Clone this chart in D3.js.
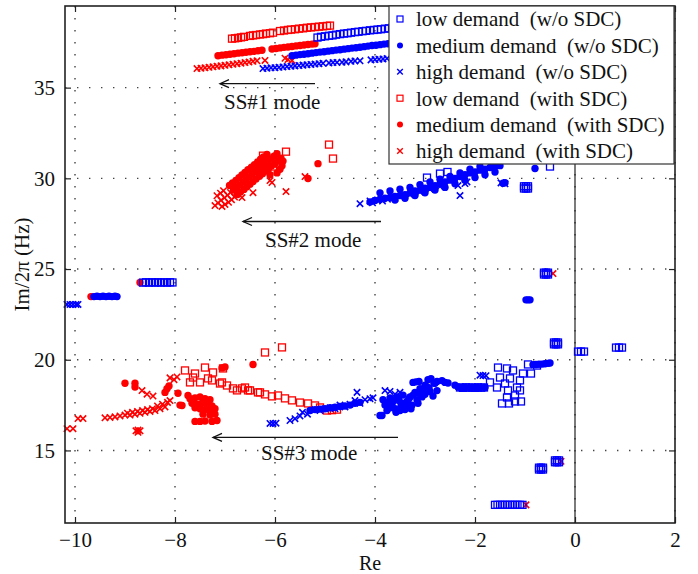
<!DOCTYPE html>
<html>
<head>
<meta charset="utf-8">
<script src="https://cdn.jsdelivr.net/npm/d3@7"></script>
<style>
  body { margin: 0; background: #fff; }
  text { font-family: "Liberation Serif", "Times New Roman", serif; fill: #111; }
</style>
</head>
<body>
<svg id="chart"></svg>
<script>
'use strict';

// ---- data (Re, Im/2pi) ----
var xTicks = [-10, -8, -6, -4, -2, 0, 2];
var yTicks = [15, 20, 25, 30, 35];

var legendLabels = [
  'low demand  (w/o SDC)', 'medium demand  (w/o SDC)', 'high demand  (w/o SDC)',
  'low demand  (with SDC)', 'medium demand  (with SDC)', 'high demand  (with SDC)'
];

var lowNoSdc = [
  [-5.15,37.76],[-5.08,37.8],[-5.0,37.83],[-4.92,37.86],[-4.85,37.88],[-4.78,37.92],[-4.7,37.95],[-4.62,37.98],
  [-4.55,38.0],[-4.48,38.03],[-4.4,38.06],[-4.33,38.08],[-4.25,38.11],[-4.18,38.13],[-4.1,38.16],[-4.02,38.18],
  [-3.95,38.2],[-3.88,38.22],[-3.8,38.25],[-3.72,38.27],[-3.65,38.3],
  [-2.96,30.04],[-2.7,30.26],[-2.55,30.35],[-0.5,30.65],
  [-1.02,29.44],[-0.98,29.44],[-0.94,29.44],[-1.02,29.56],[-0.98,29.56],[-0.94,29.56],
  [-8.64,24.25],[-8.58,24.27],[-8.52,24.25],[-8.46,24.27],[-8.4,24.25],[-8.34,24.27],[-8.28,24.25],[-8.22,24.27],
  [-8.16,24.25],[-8.1,24.27],[-8.05,24.26],
  [-0.62,24.7],[-0.58,24.7],[-0.54,24.7],[-0.62,24.8],[-0.58,24.8],[-0.54,24.8],
  [-0.42,20.85],[-0.38,20.85],[-0.34,20.85],[-0.42,20.95],[-0.38,20.95],[-0.34,20.95],
  [0.06,20.45],[0.12,20.45],[0.18,20.45],
  [0.82,20.67],[0.88,20.67],[0.94,20.67],
  [-0.72,13.95],[-0.68,13.95],[-0.64,13.95],[-0.72,14.05],[-0.68,14.05],[-0.64,14.05],
  [-0.4,14.35],[-0.36,14.35],[-0.32,14.35],[-0.4,14.45],[-0.36,14.45],[-0.32,14.45],
  [-1.6,12.0],[-1.55,12.0],[-1.5,12.0],[-1.45,12.0],[-1.4,12.0],[-1.35,12.0],[-1.3,12.0],[-1.25,12.0],
  [-1.2,12.0],[-1.15,12.0],[-1.1,12.0],[-1.05,12.0],
  [-2.3,18.47],[-2.24,18.45],[-2.18,18.48],[-2.12,18.46],[-2.06,18.47],[-2.0,18.45],[-1.94,18.48],[-1.88,18.46],[-1.82,18.47],
  [-1.54,19.57],[-1.36,19.52],[-1.24,19.41],[-0.94,19.74],[-0.88,19.24],[-1.04,19.24],[-0.76,19.68],[-1.5,19.02],
  [-1.3,18.97],[-1.1,18.86],[-1.4,18.69],[-1.16,18.47],[-1.56,18.47],[-1.34,18.31],[-1.1,18.31],[-1.36,17.92],
  [-1.2,18.03],[-1.46,17.59],[-1.32,17.59],[-1.2,17.7],[-1.08,17.7],[-1.7,18.75]
];

var medNoSdc = [
  [-5.66,36.76],[-5.58,36.79],[-5.5,36.82],[-5.42,36.84],[-5.34,36.87],[-5.26,36.9],[-5.18,36.93],[-5.1,36.96],
  [-5.02,36.98],[-4.94,37.01],[-4.86,37.04],[-4.78,37.07],[-4.7,37.09],[-4.62,37.12],[-4.54,37.15],[-4.46,37.18],
  [-4.38,37.2],[-4.3,37.23],[-4.22,37.26],[-4.14,37.29],[-4.06,37.32],[-3.98,37.34],[-3.9,37.37],[-3.82,37.4],
  [-3.74,37.42],[-3.66,37.45],
  [-4.1,28.7],[-4.0,28.78],[-3.9,28.85],[-3.8,28.9],[-3.7,28.95],[-3.6,29.0],[-3.5,29.05],[-3.4,29.1],[-3.3,29.2],
  [-3.2,29.3],[-3.1,29.35],[-3.0,29.45],[-2.9,29.5],[-2.8,29.6],[-2.7,29.7],[-2.6,29.8],[-2.5,29.9],[-2.4,30.0],
  [-2.3,30.1],[-2.2,30.2],[-2.1,30.3],[-2.0,30.35],[-1.9,30.45],[-1.8,30.5],[-1.7,30.6],[-1.6,30.65],[-1.5,30.7],
  [-3.9,29.2],[-3.7,29.3],[-3.5,29.4],[-3.3,29.5],[-3.1,29.65],[-2.9,29.8],[-2.7,29.95],[-2.5,30.1],[-2.3,30.3],
  [-2.1,30.5],[-1.9,30.65],
  [-3.6,28.8],[-3.4,28.9],[-3.2,29.05],[-3.0,29.2],[-2.8,29.35],[-2.6,29.5],[-2.4,29.7],[-2.2,29.9],[-2.0,30.05],
  [-1.8,30.2],[-1.6,30.35],
  [-1.44,29.73],[-1.4,29.76],[-0.8,30.54],
  [-9.62,23.48],[-9.56,23.5],[-9.5,23.48],[-9.44,23.5],[-9.38,23.48],[-9.32,23.5],[-9.26,23.48],[-9.2,23.5],[-9.16,23.48],
  [-0.98,23.3],[-0.94,23.3],[-0.9,23.3],
  [-5.3,17.2],[-5.2,17.25],[-5.1,17.28],[-5.0,17.3],[-4.9,17.35],[-4.8,17.38],[-4.7,17.42],[-4.6,17.45],[-4.5,17.5],
  [-4.4,17.6],[-4.3,17.65],
  [-3.84,17.8],[-3.8,17.5],[-3.76,17.2],[-3.7,17.9],[-3.66,17.55],[-3.6,17.3],[-3.58,17.1],[-3.52,17.75],[-3.48,17.45],
  [-3.44,18.05],[-3.4,17.25],[-3.36,17.7],[-3.3,17.95],[-3.26,17.5],[-3.2,18.2],[-3.16,17.8],[-3.1,18.4],[-3.06,17.95],
  [-3.0,18.1],[-2.96,18.5],[-2.9,18.25],[-2.84,18.0],[-2.8,18.7],[-2.76,18.3],
  [-3.74,17.65],[-3.62,17.75],[-3.56,17.95],[-3.46,17.6],[-3.38,17.4],[-3.32,17.85],[-3.24,18.05],[-3.12,18.15],
  [-3.04,18.3],[-2.92,18.45],[-3.5,17.2],[-3.7,17.35],[-3.28,17.3],[-3.14,17.6],
  [-3.9,16.93],[-3.86,16.93],
  [-3.24,18.75],[-3.18,18.78],[-3.12,18.8],[-3.0,18.6],[-2.94,18.9],[-2.88,18.95],[-2.82,18.7],[-2.76,18.8],
  [-2.66,18.85],[-2.6,18.75],[-2.54,18.72],[-2.4,18.6],[-2.34,18.5],[-2.28,18.45],[-2.2,18.47],[-2.1,18.45],
  [-2.0,18.47],[-1.9,18.45],[-1.8,18.47],
  [-0.84,19.72],[-0.78,19.74],[-0.72,19.75],[-0.66,19.76],[-0.6,19.78],[-0.54,19.8],[-0.5,19.82]
];

var highNoSdc = [
  [-6.24,36.05],[-6.16,36.07],[-6.08,36.09],[-6.0,36.1],[-5.92,36.12],[-5.84,36.14],[-5.76,36.16],[-5.68,36.18],
  [-5.6,36.2],[-5.52,36.22],[-5.44,36.24],[-5.36,36.26],[-5.28,36.28],[-5.2,36.3],[-5.12,36.32],[-5.04,36.34],
  [-4.92,36.36],[-4.84,36.38],[-4.76,36.39],[-4.66,36.4],[-4.58,36.42],[-4.48,36.45],[-4.4,36.47],[-4.3,36.48],
  [-4.08,36.53],[-4.0,36.55],[-3.92,36.57],[-3.84,36.58],[-3.76,36.6],
  [-4.3,28.6],[-4.1,28.75],[-4.05,28.65],[-3.95,28.8],[-3.85,28.75],[-3.75,28.85],[-3.6,28.9],[-3.5,29.0],
  [-3.3,29.1],[-3.1,29.25],[-2.9,29.4],[-2.7,29.55],
  [-2.34,29.6],[-2.3,29.05],[-2.2,29.71],[-2.16,29.8],[-1.48,29.75],[-1.4,29.7],
  [-10.16,23.05],[-10.1,23.05],[-10.04,23.05],[-9.98,23.05],[-9.94,23.05],
  [-6.1,16.49],[-6.04,16.49],[-5.98,16.5],
  [-5.7,16.65],[-5.6,16.75],[-5.5,16.9],[-5.45,17.1],[-5.35,17.0],[-5.2,17.25],[-5.1,17.2],[-5.0,17.3],[-4.9,17.35],
  [-4.8,17.3],[-4.7,17.5],[-4.6,17.4],[-4.5,17.55],[-4.4,17.75],[-4.3,17.6],[-4.2,17.8],[-4.1,17.85],[-4.04,17.9],
  [-4.36,18.2],[-3.8,18.3],[-3.7,18.25],[-3.6,18.1],[-3.5,18.2],
  [-1.9,19.15],[-1.84,19.13],[-1.78,19.12]
];

var lowSdc = [
  [-6.86,37.7],[-6.8,37.72],[-6.74,37.74],[-6.68,37.77],[-6.62,37.8],[-6.5,37.85],[-6.44,37.88],[-6.38,37.9],
  [-6.3,37.93],[-6.24,37.95],[-6.18,37.98],[-6.1,38.0],[-6.04,38.03],[-5.9,38.12],[-5.82,38.15],[-5.74,38.18],
  [-5.68,38.2],[-5.6,38.22],[-5.52,38.25],[-5.44,38.27],[-5.36,38.3],[-5.28,38.32],[-5.2,38.34],[-5.12,38.36],
  [-5.04,38.38],[-4.96,38.4],[-4.9,38.42],
  [-5.78,31.47],[-4.92,31.86],[-4.84,31.09],[-6.04,30.65],[-5.92,30.81],[-6.24,31.25],[-6.26,30.98],[-6.1,30.9],
  [-7.8,19.41],[-7.7,18.75],[-7.6,19.24],[-7.4,19.57],[-7.5,18.75],[-7.34,18.97],[-7.24,19.3],[-7.04,19.52],
  [-7.06,18.75],[-6.96,18.58],[-6.84,18.42],[-6.66,18.42],[-6.54,18.31],[-6.34,18.2],[-7.64,19.02],[-7.1,18.69],
  [-7.26,18.86],[-6.76,18.31],[-6.6,18.47],
  [-6.2,20.4],[-5.86,20.68],
  [-6.5,18.31],[-6.3,18.2],[-6.2,18.09],[-6.06,17.98],[-5.94,18.03],[-5.8,17.87],[-5.66,17.76],[-5.5,17.64],
  [-5.34,17.59],[-5.2,17.48],[-5.1,17.37],[-4.96,17.2],[-4.86,17.22],[-4.76,17.25]
];

var medSdc = [
  [-7.14,36.76],[-7.06,36.79],[-6.98,36.81],[-6.9,36.84],[-6.82,36.87],[-6.74,36.9],[-6.66,36.92],[-6.58,36.95],
  [-6.5,36.98],[-6.42,37.0],[-6.34,37.03],[-6.26,37.06],
  [-6.06,37.13],[-5.98,37.16],[-5.9,37.19],[-5.82,37.22],[-5.74,37.24],[-5.66,37.27],[-5.58,37.3],[-5.5,37.32],
  [-5.42,37.35],[-5.34,37.38],[-5.26,37.4],[-5.2,37.42],
  [-6.83,29.36],[-6.77,29.5],[-6.7,29.64],[-6.64,29.79],[-6.58,29.93],[-6.52,30.07],[-6.46,30.22],[-6.39,30.36],
  [-6.33,30.5],[-6.27,30.65],[-6.21,30.79],[-6.15,30.93],[-6.08,31.07],[-6.02,31.22],[-5.96,31.36],
  [-6.75,29.11],[-6.69,29.25],[-6.62,29.39],[-6.56,29.54],[-6.5,29.68],[-6.44,29.82],[-6.38,29.97],[-6.31,30.11],
  [-6.25,30.25],[-6.19,30.4],[-6.13,30.54],[-6.07,30.68],[-6.0,30.82],[-5.94,30.97],[-5.88,31.11],
  [-6.91,29.61],[-6.85,29.75],[-6.78,29.89],[-6.72,30.04],[-6.66,30.18],[-6.6,30.32],[-6.54,30.47],[-6.47,30.61],
  [-6.41,30.75],[-6.35,30.9],[-6.29,31.04],[-6.23,31.18],[-6.16,31.32],
  [-5.9,30.5],[-5.96,30.3],[-5.86,30.7],[-5.84,30.95],[-6.1,30.2],
  [-5.14,30.81],[-5.34,29.99],
  [-9.68,23.48],[-8.7,24.26],
  [-9.0,18.7],[-8.8,18.7],[-8.8,18.5],[-8.16,18.4],[-8.2,18.2],[-8.12,18.55],[-7.94,18.15],[-7.9,17.5],
  [-7.74,18.03],[-7.86,17.48],[-6.44,19.74],[-7.06,19.55],[-7.0,19.6],
  [-7.7,17.85],[-7.6,17.9],[-7.5,17.95],[-7.4,17.85],[-7.3,17.8],[-7.66,17.6],[-7.56,17.55],[-7.46,17.6],
  [-7.36,17.5],[-7.26,17.45],[-7.5,17.3],[-7.4,17.25],[-7.3,17.2],[-7.2,17.3],[-7.6,17.35],[-7.44,17.0],
  [-7.3,16.95],[-7.2,17.0],[-7.16,16.65],[-7.26,16.6],[-7.5,16.6],[-7.6,16.6],[-7.4,16.62]
];

var highSdc = [
  [-7.56,36.05],[-7.48,36.07],[-7.4,36.09],[-7.32,36.12],[-7.24,36.15],[-7.16,36.18],[-7.08,36.2],[-7.0,36.23],
  [-6.92,36.26],[-6.84,36.29],[-6.76,36.32],[-6.68,36.35],[-6.6,36.38],[-6.52,36.41],[-6.44,36.45],[-6.36,36.48],
  [-6.2,36.5],[-5.8,36.62],[-5.74,36.55],[-5.66,36.5],
  [-7.14,28.64],[-7.08,28.79],[-7.01,28.93],[-6.95,29.07],[-6.89,29.22],
  [-7.2,28.5],[-7.06,28.45],[-7.0,28.56],[-6.93,28.68],[-6.87,28.82],[-6.81,28.97],
  [-7.16,29.04],[-7.09,29.18],[-7.03,29.32],
  [-6.66,28.94],[-6.44,29.21],[-6.1,29.88],[-5.78,29.27],[-5.4,30.1],[-6.06,29.77],
  [-0.44,24.75],[-0.28,14.4],[-0.98,12.0],
  [-10.16,16.2],[-10.04,16.2],[-9.94,16.76],[-9.84,16.76],
  [-9.4,16.8],[-9.3,16.82],[-9.2,16.85],[-9.1,16.9],[-9.0,16.95],[-8.95,17.05],[-8.9,16.95],[-8.85,17.1],
  [-8.8,17.0],[-8.75,17.15],[-8.7,17.05],[-8.65,17.2],[-8.6,17.1],[-8.55,17.25],[-8.5,17.15],[-8.45,17.3],
  [-8.4,17.2],[-8.35,17.45],[-8.3,17.3],[-8.25,17.55],[-8.2,17.4],[-8.15,17.65],[-8.1,17.75],
  [-8.78,16.08],[-8.74,16.12],[-8.7,16.08],[-8.74,16.0],
  [-8.66,18.3],[-8.56,18.1],[-8.44,18.0],[-8.1,19.0],[-8.02,18.9],[-7.96,19.05]
];

var annotations = [
  {label: 'SS#1 mode', x1: -5.2, x2: -7.1, y: 35.22, tx: -7.02, ty: 33.84},
  {label: 'SS#2 mode', x1: -3.88, x2: -6.64, y: 27.62, tx: -6.2, ty: 26.24},
  {label: 'SS#3 mode', x1: -3.54, x2: -7.24, y: 15.72, tx: -6.28, ty: 14.5}
];

// ---- layout ----
var W = 698, H = 574;
var margin = {top: 6, right: 23, bottom: 51, left: 65};
var width = W - margin.left - margin.right;
var height = H - margin.top - margin.bottom;
var FS = 21;

var svg = d3.select('#chart').attr('width', W).attr('height', H);
var g = svg.append('g').attr('transform', 'translate(' + margin.left + ',' + margin.top + ')');

var x = d3.scaleLinear().domain([-10.2, 2]).range([0, width]);
var y = d3.scaleLinear().domain([11, 39.5]).range([height, 0]);

var BLUE = '#0000ff', RED = '#ff0000';

// dotted grid
g.append('g').selectAll('line').data(xTicks).enter().append('line')
  .attr('x1', function(d) { return x(d); }).attr('x2', function(d) { return x(d); })
  .attr('y1', 0).attr('y2', height)
  .attr('stroke', '#444').attr('stroke-width', 1.4).attr('stroke-dasharray', '1.4,10.6');
g.append('g').selectAll('line').data(yTicks).enter().append('line')
  .attr('y1', function(d) { return y(d); }).attr('y2', function(d) { return y(d); })
  .attr('x1', 0).attr('x2', width)
  .attr('stroke', '#444').attr('stroke-width', 1.4).attr('stroke-dasharray', '1.4,10.6');

// solid line at Re = 0
g.append('line')
  .attr('x1', x(0)).attr('x2', x(0)).attr('y1', 0).attr('y2', height)
  .attr('stroke', '#222').attr('stroke-width', 1.2);

// markers
function drawSeries(data, shape, color) {
  var s = g.append('g');
  if (shape === 'square') {
    s.selectAll('rect').data(data).enter().append('rect')
      .attr('x', function(d) { return x(d[0]) - 3.5; })
      .attr('y', function(d) { return y(d[1]) - 3.5; })
      .attr('width', 7).attr('height', 7)
      .attr('fill', 'none').attr('stroke', color).attr('stroke-width', 1.3);
  } else if (shape === 'circle') {
    s.selectAll('circle').data(data).enter().append('circle')
      .attr('cx', function(d) { return x(d[0]); })
      .attr('cy', function(d) { return y(d[1]); })
      .attr('r', 3.7).attr('fill', color);
  } else {
    s.selectAll('path').data(data).enter().append('path')
      .attr('transform', function(d) { return 'translate(' + x(d[0]) + ',' + y(d[1]) + ')'; })
      .attr('d', 'M-3.2,-3.2L3.2,3.2M-3.2,3.2L3.2,-3.2')
      .attr('stroke', color).attr('stroke-width', 1.6).attr('fill', 'none');
  }
}

drawSeries(lowSdc, 'square', RED);
drawSeries(medSdc, 'circle', RED);
drawSeries(highSdc, 'x', RED);
drawSeries(lowNoSdc, 'square', BLUE);
drawSeries(medNoSdc, 'circle', BLUE);
drawSeries(highNoSdc, 'x', BLUE);

// annotations
annotations.forEach(function(a) {
  var ay = y(a.y), ax2 = x(a.x2);
  g.append('line')
    .attr('x1', x(a.x1)).attr('x2', ax2).attr('y1', ay).attr('y2', ay)
    .attr('stroke', '#111').attr('stroke-width', 1.3);
  g.append('path')
    .attr('d', 'M' + (ax2 + 9) + ',' + (ay - 4) + 'L' + ax2 + ',' + ay + 'L' + (ax2 + 9) + ',' + (ay + 4))
    .attr('stroke', '#111').attr('stroke-width', 1.3).attr('fill', 'none');
  g.append('text')
    .attr('x', x(a.tx)).attr('y', y(a.ty))
    .attr('font-size', FS)
    .text(a.label);
});

// axes (ticks inside, MATLAB style)
g.append('g').attr('transform', 'translate(0,' + height + ')')
  .call(d3.axisBottom(x).tickValues(xTicks).tickSizeInner(-6).tickSizeOuter(0).tickPadding(9));
g.append('g')
  .call(d3.axisLeft(y).tickValues(yTicks).tickSizeInner(-6).tickSizeOuter(0).tickPadding(10));
g.append('g')
  .call(d3.axisTop(x).tickValues(xTicks).tickSizeInner(-6).tickSizeOuter(0).tickFormat(''));
g.append('g').attr('transform', 'translate(' + width + ',0)')
  .call(d3.axisRight(y).tickValues(yTicks).tickSizeInner(-6).tickSizeOuter(0).tickFormat(''));

g.selectAll('.domain').remove();
g.selectAll('.tick line').attr('stroke', '#222').attr('stroke-width', 1.2);
g.selectAll('.tick text').attr('font-size', FS).attr('font-family', '"Liberation Serif", serif').attr('fill', '#111');

g.append('rect')
  .attr('x', 0).attr('y', 0).attr('width', width).attr('height', height)
  .attr('fill', 'none').attr('stroke', '#222').attr('stroke-width', 1.6);

// axis labels
g.append('text')
  .attr('x', width / 2).attr('y', height + 46.6)
  .attr('text-anchor', 'middle').attr('font-size', 20)
  .text('Re');
g.append('text')
  .attr('transform', 'translate(' + (-36) + ',' + (height / 2) + ') rotate(-90)')
  .attr('text-anchor', 'middle').attr('font-size', FS)
  .text('Im/2\u03c0  (Hz)');

// legend
var legend = g.append('g').attr('transform', 'translate(' + (389 - margin.left) + ',0)');
legend.append('rect')
  .attr('width', 285).attr('height', 158)
  .attr('fill', '#fff').attr('stroke', '#333').attr('stroke-width', 1.2);
var shapes = ['square', 'circle', 'x', 'square', 'circle', 'x'];
var colors = [BLUE, BLUE, BLUE, RED, RED, RED];
legendLabels.forEach(function(lbl, i) {
  var cy = 13 + i * 26.4;
  var item = legend.append('g').attr('transform', 'translate(11,' + cy + ')');
  if (shapes[i] === 'square') {
    item.append('rect').attr('x', -3).attr('y', -3).attr('width', 6).attr('height', 6)
      .attr('fill', 'none').attr('stroke', colors[i]).attr('stroke-width', 1.2);
  } else if (shapes[i] === 'circle') {
    item.append('circle').attr('r', 3).attr('fill', colors[i]);
  } else {
    item.append('path').attr('d', 'M-2.8,-2.8L2.8,2.8M-2.8,2.8L2.8,-2.8')
      .attr('stroke', colors[i]).attr('stroke-width', 1.4);
  }
  item.append('text').attr('x', 16).attr('dy', '0.35em').attr('font-size', FS)
    .attr('xml:space', 'preserve')
    .text(lbl);
});
</script>
</body>
</html>
